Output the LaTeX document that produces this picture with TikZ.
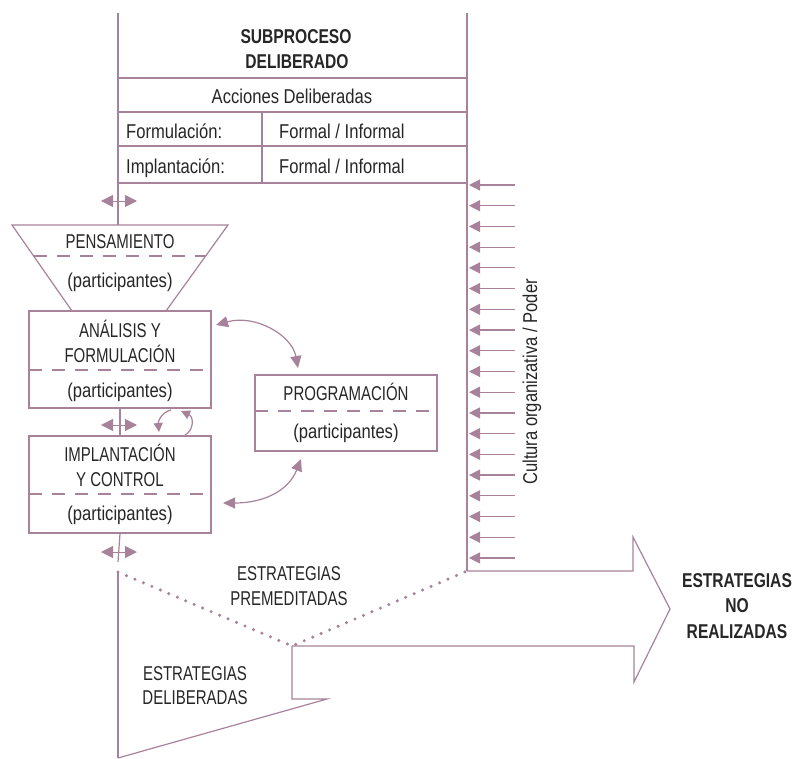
\documentclass[tikz,border=0pt]{standalone}
\usepackage{fontspec}
\setmainfont{Liberation Sans}[FakeStretch=0.83]
\newfontfamily\capsfont{Liberation Sans}[FakeStretch=0.75]
\newfontfamily\bcapsfont{Liberation Sans}[FakeStretch=0.78]
\usetikzlibrary{arrows.meta}
\definecolor{mauve}{HTML}{A8829A}
\definecolor{ink}{HTML}{262626}
\begin{document}
\begin{tikzpicture}[x=1pt,y=-1pt,
  ln/.style={draw=mauve, line width=1.2pt},
  dsh/.style={draw=mauve, line width=1.1pt, dash pattern=on 13pt off 10pt},
  dots/.style={draw=mauve, line width=3.4pt, line cap=round, dash pattern=on 0pt off 9.2pt},
  txt/.style={text=ink, inner sep=0pt, anchor=base, font=\fontsize{20}{25}\selectfont},
  txtw/.style={txt, anchor=base west},
  captxt/.style={txt, font=\capsfont\fontsize{20}{25}\selectfont},
  bcaptxt/.style={txt, font=\bcapsfont\bfseries\fontsize{20}{25}\selectfont},
  box/.style={ln, minimum width=182pt, inner sep=0pt},
  head/.style={-{Triangle[length=11pt,width=11pt]}},
  dbl/.style={{Triangle[length=12pt,width=12pt]}-{Triangle[length=12pt,width=12pt]}, draw=mauve, line width=1pt},
  dblc/.style={{Triangle[length=12pt,width=11pt]}-{Triangle[length=12pt,width=11pt]}},
  smallh/.style={-{Triangle[length=9pt,width=9pt]}},
]
\useasboundingbox (0,0) rectangle (795,758);

% table
\coordinate (tl) at (118,13);
\coordinate (tr) at (467,13);
\coordinate (tbot) at (118,225);
\coordinate (rbot) at (467,571);
\draw[ln] (tl) -- (tbot);
\draw[ln] (tr) -- (rbot);
\foreach \yy/\nm in {78/h1,112/h2,146/h3,183/h4}{
  \coordinate (\nm a) at (118,\yy);
  \coordinate (\nm b) at (467,\yy);
  \draw[ln] (\nm a) -- (\nm b);
}
\coordinate (dv1) at (262,112);
\coordinate (dv2) at (262,183);
\draw[ln] (dv1) -- (dv2);

\node[bcaptxt] (t1) at (296,43) {SUBPROCESO};
\node[bcaptxt] (t2) at (297,68) {DELIBERADO};
\node[txt] (t3) at (292,103) {Acciones Deliberadas};
\node[txtw] (t4) at (126,138) {Formulación:};
\node[txtw] (t5) at (279,138) {Formal / Informal};
\node[txtw] (t6) at (126,173) {Implantación:};
\node[txtw] (t7) at (279,173) {Formal / Informal};

% culture arrows
\foreach \k in {0,...,18}{
  \coordinate (ra\k) at (515,{185+20.72*\k});
  \coordinate (rb\k) at (469,{185+20.72*\k});
  \draw[ln, head] (ra\k) -- (rb\k);
}
\node[txt, rotate=90] (cu) at (537,382) {Cultura organizativa / Poder};

% left vertical pieces and double arrows
\coordinate (da1) at (101,201); \coordinate (db1) at (137,201);
\draw[dbl] (da1) -- (db1);

\draw[ln] (12,225) -- (228,225) -- (166,311) -- (72,311) -- cycle;
\draw[dsh] (34,256) -- (206,256);
\node[captxt] (pe1) at (120,248) {PENSAMIENTO};
\node[txt] (pe2) at (120,287) {(participantes)};

\node[box, minimum height=97pt] (af) at (120,359.5) {};
\draw[dsh] (29,370) -- (211,370);
\node[captxt] (af1) at (120,337) {ANÁLISIS Y};
\node[captxt] (af2) at (120,362) {FORMULACIÓN};
\node[txt] (af3) at (120,397) {(participantes)};

\node[box, minimum height=97pt] (ic) at (120,484.5) {};
\draw[dsh] (29,494) -- (211,494);
\node[captxt] (ic1) at (120,461) {IMPLANTACIÓN};
\node[captxt] (ic2) at (120,486) {Y CONTROL};
\node[txt] (ic3) at (120,520) {(participantes)};

\node[box, minimum height=76pt] (pr) at (346,413) {};
\draw[dsh] (255,411) -- (437,411);
\node[captxt] (pr1) at (346,400) {PROGRAMACIÓN};
\node[txt] (pr2) at (346,438) {(participantes)};

\draw[ln] (af.south) -- (ic.north);
\coordinate (da2) at (101,425); \coordinate (db2) at (137,425);
\draw[dbl] (da2) -- (db2);

\coordinate (lv1) at (118,562);
\draw[ln] (ic.south) -- (lv1);
\coordinate (da3) at (101,552); \coordinate (db3) at (137,552);
\draw[dbl] (da3) -- (db3);

% curved connectors
\coordinate (c1a) at (216,325); \coordinate (c1b) at (298,368);
\draw[ln, dblc] (c1a) .. controls (255,314) and (292,335) .. (c1b);
\coordinate (c2a) at (301,459); \coordinate (c2b) at (223,503);
\draw[ln, dblc] (c2a) .. controls (288,492) and (262,503) .. (c2b);

% small loop arrows
\coordinate (s1a) at (171,410); \coordinate (s1b) at (159,432);
\draw[ln, smallh] (s1a) .. controls (162,412) and (158,421) .. (s1b);
\coordinate (s2a) at (185,435); \coordinate (s2b) at (181,411);
\draw[ln, smallh] (s2a) .. controls (194,430) and (194,417) .. (s2b);

% bottom arrows
\coordinate (mp) at (292,646);
\coordinate (ls) at (118,572);
\coordinate (lb) at (118,758);
\draw[ln] (rbot) -- (633,571) -- (633,537) -- (670,609) -- (634,682) -- (634,646) -- (mp);
\draw[ln] (mp) -- (292,699) -- (327,699) -- (lb);
\draw[ln] (ls) -- (lb);
\draw[dots] (ls) -- (mp) -- (rbot);

\node[captxt] (ep1) at (289,580) {ESTRATEGIAS};
\node[captxt] (ep2) at (289,605) {PREMEDITADAS};
\node[captxt] (ed1) at (195,680) {ESTRATEGIAS};
\node[captxt] (ed2) at (195,704) {DELIBERADAS};
\node[bcaptxt] (nr1) at (737,587) {ESTRATEGIAS};
\node[bcaptxt] (nr2) at (737,612) {NO};
\node[bcaptxt] (nr3) at (737,638) {REALIZADAS};
\end{tikzpicture}
\end{document}
